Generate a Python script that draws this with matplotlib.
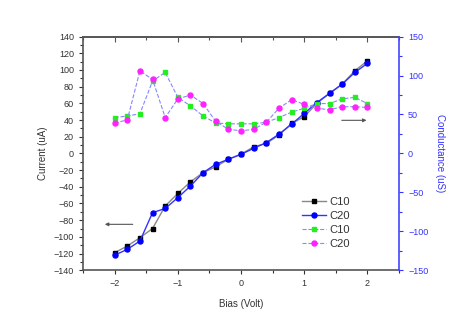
import matplotlib
matplotlib.use("Agg")
import matplotlib.pyplot as plt
from matplotlib.ticker import MultipleLocator

plt.rcParams['font.family'] = ['Liberation Sans', 'DejaVu Sans']

bias = [-2.0, -1.8, -1.6, -1.4, -1.2, -1.0, -0.8, -0.6, -0.4, -0.2, 0.0,
        0.2, 0.4, 0.6, 0.8, 1.0, 1.2, 1.4, 1.6, 1.8, 2.0]

current_c10 = [-119, -111, -101, -90, -63, -48, -34, -23, -16, -7, -1,
               8, 12, 22, 36, 44, 60, 72, 83, 99, 111]
current_c20 = [-122, -115, -105, -71, -66, -53, -39, -23, -13, -7, -1,
               6, 13, 23, 35, 48, 61, 72, 83, 97, 108]

cond_c10 = [46, 48, 51, 93, 104, 72, 61, 48, 39, 38, 38,
            38, 40, 46, 53, 58, 64, 64, 70, 72, 64]
cond_c20 = [39, 43, 106, 95, 46, 70, 75, 64, 41, 31, 29,
            31, 40, 58, 69, 63, 58, 56, 60, 60, 59]

fig = plt.figure(figsize=(4.64, 3.24), dpi=100)
ax = fig.add_axes([0.179, 0.166, 0.681, 0.721])
ax2 = ax.twinx()

l1, = ax.plot(bias, current_c10, color='#888888', lw=1.0, marker='s', ms=3.2,
              mfc='black', mec='black', label='C10')
l2, = ax.plot(bias, current_c20, color='#3333ff', lw=1.0, marker='o', ms=3.6,
              mfc='#0000ff', mec='#0000ff', label='C20')
l3, = ax2.plot(bias, cond_c10, color='#8888ff', lw=0.8, ls='--', marker='s', ms=3.2,
               mfc='#22ee22', mec='#22ee22', label='C10')
l4, = ax2.plot(bias, cond_c20, color='#8888ff', lw=0.8, ls='--', marker='o', ms=3.6,
               mfc='#ff22ff', mec='#ff22ff', label='C20')

ax.set_xlim(-2.5, 2.5)
ax.set_ylim(-140, 140)
ax2.set_ylim(-150, 150)

ax.xaxis.set_major_locator(MultipleLocator(1))
ax.xaxis.set_minor_locator(MultipleLocator(0.5))
ax.yaxis.set_major_locator(MultipleLocator(20))
ax.yaxis.set_minor_locator(MultipleLocator(10))
ax2.yaxis.set_major_locator(MultipleLocator(50))
ax2.yaxis.set_minor_locator(MultipleLocator(25))

tc = '#333333'
ax.tick_params(axis='both', which='both', labelsize=6.5, colors=tc, width=0.8)
ax.tick_params(axis='both', which='major', length=3)
ax.tick_params(axis='both', which='minor', length=2)
ax2.tick_params(axis='y', which='both', colors='#3333ff', labelsize=6.5, width=0.8)
ax2.tick_params(axis='y', which='major', length=3)
ax2.tick_params(axis='y', which='minor', length=2)

top = ax.secondary_xaxis('top')
top.xaxis.set_major_locator(MultipleLocator(1))
top.xaxis.set_minor_locator(MultipleLocator(0.5))
top.tick_params(axis='x', which='both', direction='in', labeltop=False,
                colors='#555555', width=0.8)
top.tick_params(axis='x', which='major', length=3.5)
top.tick_params(axis='x', which='minor', length=2)
top.spines['top'].set_color('#555555')
top.spines['top'].set_linewidth(1.2)

for s in ['left', 'bottom', 'top']:
    ax.spines[s].set_color('#555555')
    ax.spines[s].set_linewidth(1.2)
for s in ['left', 'bottom', 'top']:
    ax2.spines[s].set_visible(False)
ax2.spines['right'].set_color('#4444ff')
ax2.spines['right'].set_linewidth(1.2)
ax.spines['right'].set_visible(False)

ax.set_xlabel('Bias (Volt)', fontsize=7, color=tc, labelpad=8)
ax.set_ylabel('Current (uA)', fontsize=7, color=tc, labelpad=4)
ax2.set_ylabel('Conductance (uS)', fontsize=7, color='#3333ff', rotation=270, labelpad=12)

ax.annotate('', xy=(-2.2, -85), xytext=(-1.67, -85),
            arrowprops=dict(arrowstyle='-|>', color='#555555', lw=0.8, mutation_scale=5))
ax2.annotate('', xy=(2.03, 42.5), xytext=(1.55, 42.5),
             arrowprops=dict(arrowstyle='-|>', color='#555555', lw=0.8, mutation_scale=5))

leg = ax2.legend([l1, l2, l3, l4], ['C10', 'C20', 'C10', 'C20'],
                 loc='upper left', bbox_to_anchor=(0.66, 0.355), frameon=False,
                 fontsize=8, handlelength=2.2, handletextpad=0.3, labelspacing=0.35)
for t in leg.get_texts():
    t.set_color(tc)

fig.savefig('out.png', dpi=100)
